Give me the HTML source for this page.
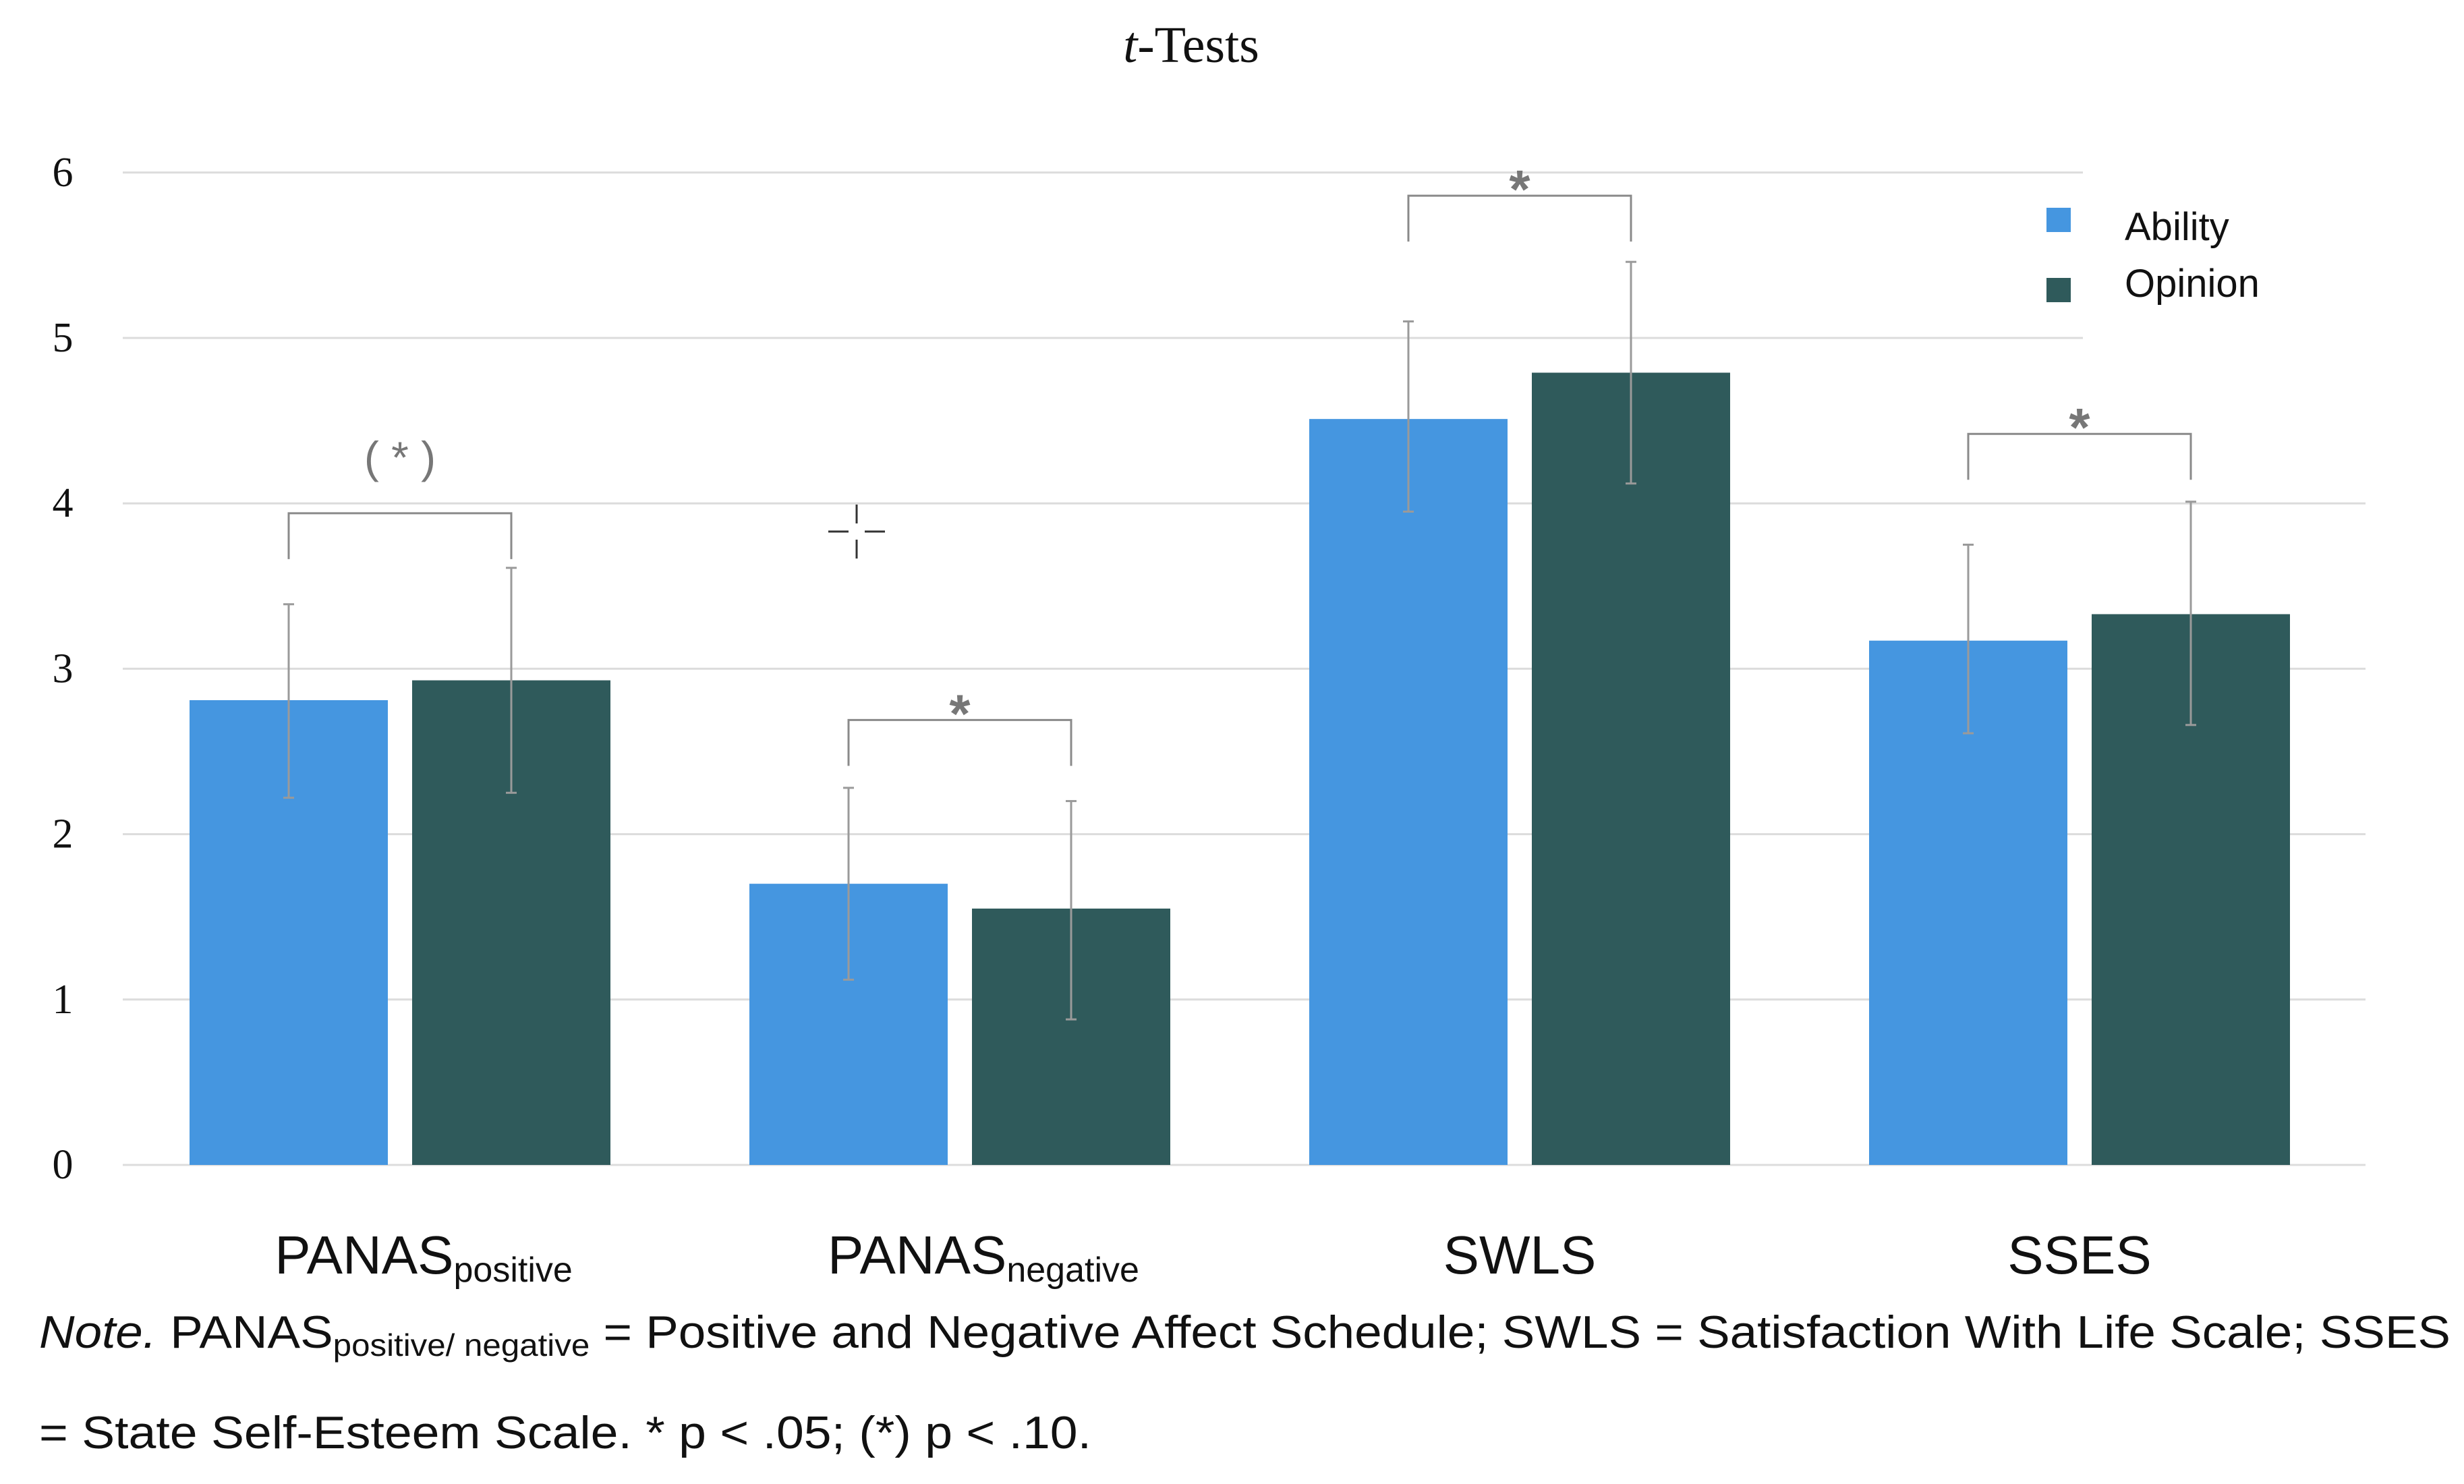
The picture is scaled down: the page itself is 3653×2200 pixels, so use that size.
<!DOCTYPE html>
<html><head><meta charset="utf-8"><style>
html,body{margin:0;padding:0;background:#fff;}
svg{display:block;}
</style></head><body>
<svg id="chart" width="3653" height="2200" viewBox="0 0 3653 2200" xmlns="http://www.w3.org/2000/svg">
<rect width="3653" height="2200" fill="#fff"/>
<text x="1766" y="92" text-anchor="middle" font-family="Liberation Serif, serif" font-size="76" fill="#111"><tspan font-style="italic">t</tspan>-Tests</text>
<g id="grid"></g>
<g id="bars"></g>
<g id="errs"></g>
<g id="sig"></g>
<g id="cats"></g>
<g>
<rect x="3034" y="308" width="36" height="36" fill="#4596e0"/>
<text x="3150" y="356" font-family="Liberation Sans, sans-serif" font-size="58" fill="#111">Ability</text>
<rect x="3034" y="412" width="36" height="36" fill="#2f5a5b"/>
<text x="3150" y="440" font-family="Liberation Sans, sans-serif" font-size="58" fill="#111">Opinion</text>
</g>
<g stroke="#333" stroke-width="3">
<line x1="1228" y1="788" x2="1258" y2="788"/><line x1="1282" y1="788" x2="1312" y2="788"/>
<line x1="1270" y1="748" x2="1270" y2="776"/><line x1="1270" y1="800" x2="1270" y2="828"/>
</g>
<text x="58" y="1998" font-family="Liberation Sans, sans-serif" font-size="68" fill="#111" textLength="3575" lengthAdjust="spacingAndGlyphs"><tspan font-style="italic">Note.</tspan>  PANAS<tspan font-size="46" dy="12">positive/ negative</tspan><tspan dy="-12"> = Positive and Negative Affect Schedule; SWLS = Satisfaction With Life Scale; SSES</tspan></text>
<text x="58" y="2147" font-family="Liberation Sans, sans-serif" font-size="68" fill="#111" textLength="1560" lengthAdjust="spacingAndGlyphs">= State Self-Esteem Scale. * p &lt; .05; (*) p &lt; .10.</text>
</svg>
<script>
const categories = ["PANAS|positive", "PANAS|negative", "SWLS", "SSES"];
const abilityValues = [2.81, 1.70, 4.51, 3.17];
const opinionValues = [2.93, 1.55, 4.79, 3.33];
const abilityErrHigh = [3.39, 2.28, 5.10, 3.75];
const abilityErrLow = [2.22, 1.12, 3.95, 2.61];
const opinionErrHigh = [3.61, 2.20, 5.46, 4.01];
const opinionErrLow = [2.25, 0.88, 4.12, 2.66];
const sigLabels = ["( * )", "*", "*", "*"];
const sigLevels = [3.94, 2.69, 5.86, 4.42];
const yTicks = [0, 1, 2, 3, 4, 5, 6];

const NS = "http://www.w3.org/2000/svg";
const y0 = 1727, unit = 245.2;
const yScale = v => y0 - v * unit;
const groupStart = 281, groupStep = 830, barW = 294, barGap = 36;
const xAbility = i => groupStart + i * groupStep;
const xOpinion = i => xAbility(i) + barW + barGap;
function mk(tag, attrs, parent) {
  const el = document.createElementNS(NS, tag);
  for (const k in attrs) el.setAttribute(k, attrs[k]);
  parent.appendChild(el);
  return el;
}
const grid = document.getElementById("grid");
yTicks.forEach(t => {
  const y = yScale(t);
  const ln = mk("line", {x1: 182, x2: t >= 5 ? 3088 : 3507, y1: y, y2: y, stroke: "#dcdcdc", "stroke-width": 3}, grid);
  
  
  const tx = mk("text", {x: 93, y: y + 20, "text-anchor": "middle", "font-family": "Liberation Serif, serif", "font-size": 62, fill: "#111"}, grid);
  tx.textContent = t;
  
  
});
const bars = document.getElementById("bars");
const errs = document.getElementById("errs");
function errBar(x, hi, lo) {
  const g = mk("g", {stroke: "#9a9a9a", "stroke-width": 3}, errs);
  
  
  mk("line", {x1: x, x2: x, y1: yScale(hi), y2: yScale(lo)}, g);
  mk("line", {x1: x - 8, x2: x + 8, y1: yScale(hi), y2: yScale(hi)}, g);
  mk("line", {x1: x - 8, x2: x + 8, y1: yScale(lo), y2: yScale(lo)}, g);
}
categories.forEach((c, i) => {
  const a = mk("rect", {x: xAbility(i), y: yScale(abilityValues[i]), width: barW, height: yScale(0) - yScale(abilityValues[i]), fill: "#4596e0"}, bars);
  
  
  const o = mk("rect", {x: xOpinion(i), y: yScale(opinionValues[i]), width: barW, height: yScale(0) - yScale(opinionValues[i]), fill: "#2f5a5b"}, bars);
  
  
  const ca = xAbility(i) + barW / 2, co = xOpinion(i) + barW / 2;
  errBar(ca, abilityErrHigh[i], abilityErrLow[i]);
  errBar(co, opinionErrHigh[i], opinionErrLow[i]);
  const sg = document.getElementById("sig");
  const by = yScale(sigLevels[i]);
  const paren = sigLabels[i].indexOf("(") >= 0;
  const br = mk("path", {d: `M${ca} ${by + 68} V${by} H${co} V${by + 68}`, fill: "none", stroke: "#8a8a8a", "stroke-width": 3}, sg);
  
  
  const st = mk("text", {x: (ca + co) / 2, y: paren ? by - 60 : by + 18, "text-anchor": "middle", "font-family": "Liberation Sans, sans-serif", "font-size": paren ? 66 : 80, fill: "#777", "font-weight": paren ? "normal" : "bold"}, sg);
  st.textContent = sigLabels[i];
  
  
  const parts = c.split("|");
  const ct = mk("text", {x: (ca + co) / 2 + (parts[1] ? 35 : 0), y: 1888, "text-anchor": "middle", "font-family": "Liberation Sans, sans-serif", "font-size": 80, fill: "#111"}, document.getElementById("cats"));
  
  
  const t1 = mk("tspan", {}, ct); t1.textContent = parts[0];
  if (parts[1]) { const t2 = mk("tspan", {"font-size": 52, dy: 12}, ct); t2.textContent = parts[1]; }
});
</script>
</body></html>
